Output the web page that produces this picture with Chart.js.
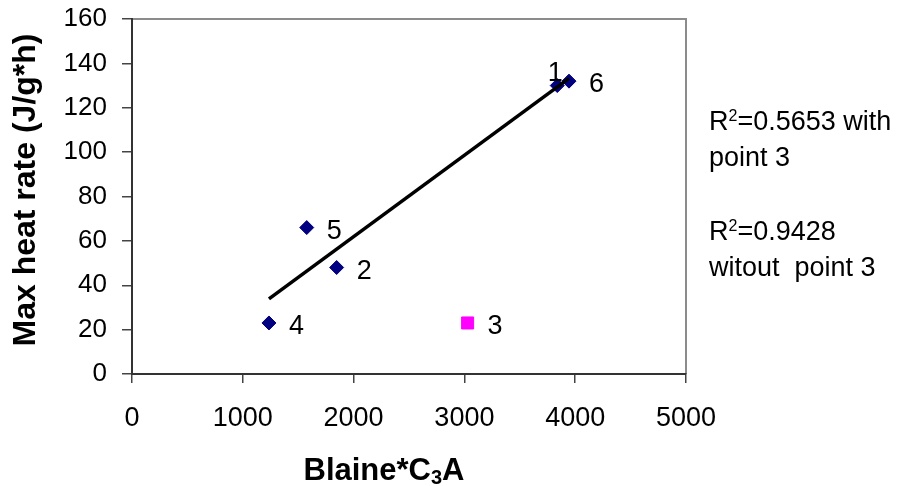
<!DOCTYPE html>
<html>
<head>
<meta charset="utf-8">
<title>Max heat rate vs Blaine*C3A</title>
<script src="https://cdn.jsdelivr.net/npm/chart.js@4/dist/chart.umd.min.js"></script>
<style>
  html, body { margin: 0; padding: 0; background: #ffffff; }
  #wrap { width: 898px; height: 486px; }
</style>
</head>
<body>
<div id="wrap"><canvas id="chart" width="898" height="486"></canvas></div>
<script>
// ---- data ----
const sampleIds   = ['1', '2', '3', '4', '5', '6'];
const blaineC3A   = [3838, 1847, 3029, 1236, 1577, 3944];
const maxHeatRate = [130, 48, 23, 23, 66, 132];
const outlierId   = '3';                       // sample left out of the fit
const xTickValues = [0, 1000, 2000, 3000, 4000, 5000];
const yTickValues = [0, 20, 40, 60, 80, 100, 120, 140, 160];
const noteWith    = ['R', '2', '=0.5653 with'];
const noteWith2   = 'point 3';
const noteWithout = ['R', '2', '=0.9428'];
const noteWithout2 = 'witout  point 3';
const yTitle      = 'Max heat rate (J/g*h)';
const xTitleParts = ['Blaine*C', '3', 'A'];

// ---- styling ----
const FONT = "'Liberation Sans', Arial, Helvetica, sans-serif";
const labelsAbove = ['1'];

// split samples into the fitted set and the outlier
const fitIdx = sampleIds.map((_, i) => i).filter(i => sampleIds[i] !== outlierId);
const outIdx = sampleIds.map((_, i) => i).filter(i => sampleIds[i] === outlierId);
const toPoint = i => ({ x: blaineC3A[i], y: maxHeatRate[i], id: sampleIds[i] });

// least-squares line through the fitted samples
function linearFit(xs, ys) {
  const n = xs.length;
  const mx = xs.reduce((a, b) => a + b, 0) / n;
  const my = ys.reduce((a, b) => a + b, 0) / n;
  let sxy = 0, sxx = 0;
  for (let i = 0; i < n; i++) { sxy += (xs[i] - mx) * (ys[i] - my); sxx += (xs[i] - mx) ** 2; }
  const slope = sxy / sxx;
  return { slope, intercept: my - slope * mx };
}
const fitX = fitIdx.map(i => blaineC3A[i]);
const fitY = fitIdx.map(i => maxHeatRate[i]);
const fit = linearFit(fitX, fitY);
const fitXMin = Math.min(...fitX), fitXMax = Math.max(...fitX);
const trendPoints = [fitXMin, fitXMax].map(x => ({ x, y: fit.intercept + fit.slope * x }));

// white page, grey frame on top and right of the plot area
const framePlugin = {
  id: 'frame',
  beforeDraw(chart) {
    const { ctx, chartArea: a } = chart;
    ctx.save();
    ctx.fillStyle = '#ffffff';
    ctx.fillRect(0, 0, chart.width, chart.height);
    ctx.strokeStyle = '#8c8c8c';
    ctx.lineWidth = 2;
    ctx.beginPath();
    ctx.moveTo(a.left, a.top);
    ctx.lineTo(a.right, a.top);
    ctx.lineTo(a.right, a.bottom);
    ctx.stroke();
    ctx.restore();
  }
};

// sample numbers beside each marker, axis titles and fit notes
const textPlugin = {
  id: 'texts',
  afterDraw(chart) {
    const { ctx, chartArea: a } = chart;
    ctx.save();
    ctx.fillStyle = '#000000';

    // sample numbers
    ctx.font = '27px ' + FONT;
    ctx.textBaseline = 'alphabetic';
    [0, 1].forEach(d => {
      const meta = chart.getDatasetMeta(d);
      meta.data.forEach((el, k) => {
        const id = chart.data.datasets[d].data[k].id;
        if (labelsAbove.includes(id)) {
          ctx.textAlign = 'center';
          ctx.fillText(id, el.x - 2, el.y - 5);
        } else {
          ctx.textAlign = 'left';
          ctx.fillText(id, el.x + 20, el.y + 11);
        }
      });
    });

    // y axis title
    ctx.font = 'bold 32px ' + FONT;
    ctx.save();
    ctx.translate(35, 190);
    ctx.rotate(-Math.PI / 2);
    ctx.textAlign = 'center';
    ctx.fillText(yTitle, 0, 0);
    ctx.restore();

    // x axis title with subscript
    const main = 'bold 31px ' + FONT, sub = 'bold 20px ' + FONT;
    ctx.textAlign = 'left';
    ctx.font = main; const w1 = ctx.measureText(xTitleParts[0]).width;
    ctx.font = sub;  const w2 = ctx.measureText(xTitleParts[1]).width;
    ctx.font = main; const w3 = ctx.measureText(xTitleParts[2]).width;
    let tx = (a.left + a.right) / 2 - 25 - (w1 + w2 + w3) / 2;
    const ty = 480;
    ctx.font = main; ctx.fillText(xTitleParts[0], tx, ty); tx += w1;
    ctx.font = sub;  ctx.fillText(xTitleParts[1], tx, ty + 4); tx += w2;
    ctx.font = main; ctx.fillText(xTitleParts[2], tx, ty);

    // R² notes
    function noteLine(parts, x, y) {
      ctx.font = '27px ' + FONT;
      ctx.fillText(parts[0], x, y); x += ctx.measureText(parts[0]).width;
      ctx.font = '16px ' + FONT;
      ctx.fillText(parts[1], x, y - 9); x += ctx.measureText(parts[1]).width;
      ctx.font = '27px ' + FONT;
      ctx.fillText(parts[2], x, y);
    }
    const nx = 709;
    noteLine(noteWith, nx, 130);
    ctx.font = '27px ' + FONT; ctx.fillText(noteWith2, nx, 166);
    noteLine(noteWithout, nx, 240);
    ctx.font = '27px ' + FONT; ctx.fillText(noteWithout2, nx, 276);

    ctx.restore();
  }
};

const axisGrid = { display: true, drawOnChartArea: false, drawTicks: true, color: '#444444', lineWidth: 1.5 };
const noScalePadding = s => { s.paddingTop = 0; s.paddingBottom = 0; s.paddingLeft = 0; s.paddingRight = 0; };

new Chart(document.getElementById('chart'), {
  type: 'scatter',
  data: {
    datasets: [
      {
        label: 'samples',
        data: fitIdx.map(toPoint),
        pointStyle: 'rectRot',
        pointRadius: 7,
        pointHoverRadius: 7,
        backgroundColor: '#000080',
        borderColor: '#000080',
        borderWidth: 1,
        order: 2
      },
      {
        label: 'outlier',
        data: outIdx.map(toPoint),
        pointStyle: 'rect',
        pointRadius: 8.5,
        pointHoverRadius: 8.5,
        backgroundColor: '#ff00ff',
        borderColor: '#ff00ff',
        borderWidth: 1,
        order: 2
      },
      {
        label: 'linear fit',
        type: 'line',
        data: trendPoints,
        showLine: true,
        borderColor: '#000000',
        borderWidth: 3.5,
        pointRadius: 0,
        fill: false,
        order: 0
      }
    ]
  },
  options: {
    responsive: false,
    devicePixelRatio: 1,
    animation: false,
    events: [],
    layout: { padding: { top: 19, right: 212, left: 0, bottom: 0 } },
    plugins: { legend: { display: false }, tooltip: { enabled: false }, title: { display: false } },
    scales: {
      x: {
        type: 'linear',
        min: xTickValues[0],
        max: xTickValues[xTickValues.length - 1],
        afterBuildTicks: s => { s.ticks = xTickValues.map(v => ({ value: v })); },
        afterFit: s => { s.height = 112; noScalePadding(s); },
        grid: Object.assign({ tickLength: 9 }, axisGrid),
        border: { display: true, color: '#333333', width: 2 },
        ticks: { color: '#000000', font: { family: FONT, size: 27 }, padding: 19, maxRotation: 0, callback: v => String(v) }
      },
      y: {
        type: 'linear',
        min: yTickValues[0],
        max: yTickValues[yTickValues.length - 1],
        afterBuildTicks: s => { s.ticks = yTickValues.map(v => ({ value: v })); },
        afterFit: s => { s.width = 132; noScalePadding(s); },
        grid: Object.assign({ tickLength: 10 }, axisGrid),
        border: { display: true, color: '#333333', width: 2 },
        ticks: { color: '#000000', font: { family: FONT, size: 26 }, padding: 15, callback: v => String(v) }
      }
    }
  },
  plugins: [framePlugin, textPlugin]
});
</script>
</body>
</html>
